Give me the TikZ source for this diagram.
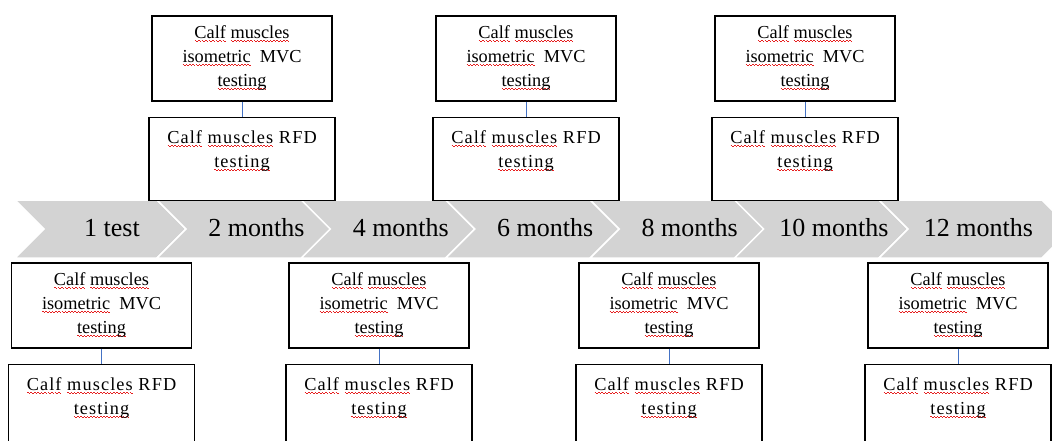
\documentclass[tikz,border=0pt]{standalone}
\usepackage{fontspec}
\setmainfont{Liberation Serif}
\newfontfamily\widefont[LetterSpace=6]{Liberation Serif}
\usetikzlibrary{positioning}
\definecolor{ChevronGray}{RGB}{211, 211, 211}
\definecolor{LinkBlue}{RGB}{68, 114, 196}
\definecolor{WaveRed}{RGB}{230, 30, 30}
\newsavebox{\wavebox}
\newcommand{\spellwave}[1]{\sbox{\wavebox}{#1}\rlap{\lower3pt\hbox to \wd\wavebox{\color{WaveRed}\xleaders\hbox{\rule[1.1pt]{1.6pt}{0.9pt}\rule{1.6pt}{0.9pt}}\hfil}}\usebox{\wavebox}}
\newcommand{\lowstrut}{\rule[-19.5pt]{0pt}{19.5pt}}
\newcommand{\mvctext}{\spellwave{Calf} \spellwave{muscles}\\\spellwave{isometric}\ \ MVC\\\spellwave{testing}}
\newcommand{\rfdtext}{\spellwave{Calf} \spellwave{muscles} RFD\\\spellwave{testing}\lowstrut}

\begin{document}
\begin{tikzpicture}[x=1pt, y=-1pt,
    mvcbox/.style={draw, line width=1.2pt, minimum width=180pt, minimum height=85pt, align=center, font=\fontsize{18.3}{24}\selectfont},
    rfdbox/.style={draw, line width=1.2pt, minimum width=186pt, inner ysep=13.5pt, align=center, font=\widefont\fontsize{18.3}{24}\selectfont},
    link/.style={LinkBlue, line width=1pt},
    monthlabel/.style={anchor=base, font=\fontsize{26}{30}\selectfont}]
    \useasboundingbox (0,0) rectangle (1052,441);
    \clip (0,0) rectangle (1052,441);
    % chevron band
    \foreach \a/\b in {15/157, 157/301.4, 301.4/445.8, 445.8/590.2, 590.2/734.6, 734.6/879, 879/1042}
        \filldraw[fill=ChevronGray, draw=white, line width=1.5pt] (\a,200) -- (\b,200) -- (\b+29,229) -- (\b,258) -- (\a,258) -- (\a+29,229) -- cycle;
    \foreach \lab [count=\i from 0] in {1 test, 2 months, 4 months, 6 months, 8 months, 10 months, 12 months}
        \node[monthlabel] (m\i) at (112+144.4*\i, 236) {\lab};
    % testing boxes
    \foreach \x/\y [count=\n] in {242/58.5, 526/58.5, 805/58.5, 101.5/305.5, 379/305.5, 669/305.5, 958/305.5} {
        \node[mvcbox] (mvc\n) at (\x,\y) {\mvctext};
        \node[rfdbox, below=15pt of mvc\n] (rfd\n) {\rfdtext};
        \draw[link] (mvc\n) -- (rfd\n);
    }
\end{tikzpicture}
\end{document}
